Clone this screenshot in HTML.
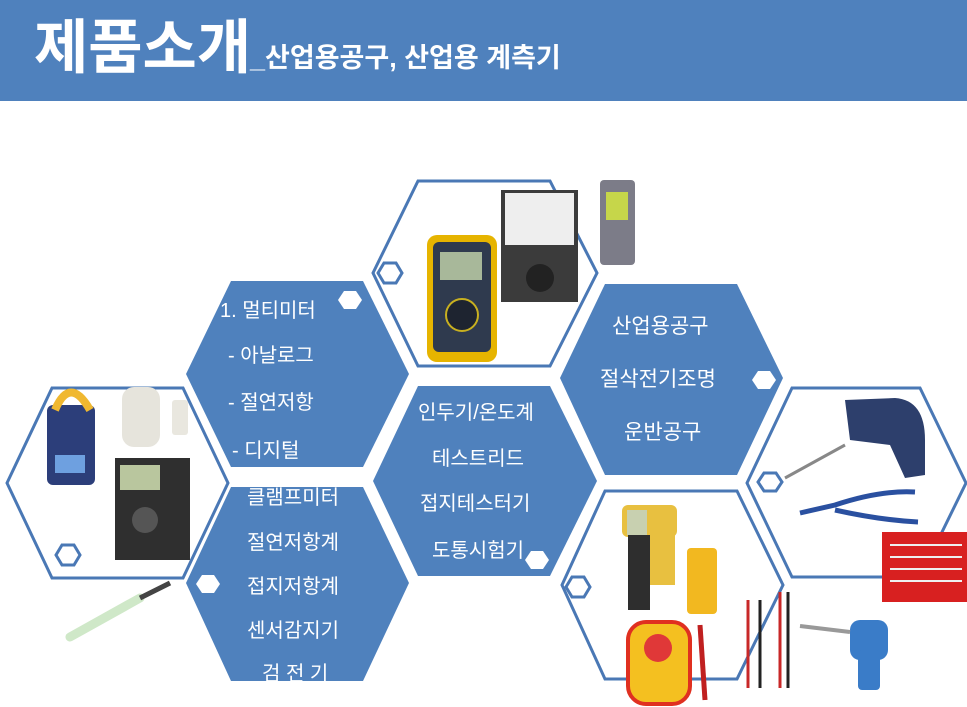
<!DOCTYPE html>
<html><head><meta charset="utf-8"><style>
html,body{margin:0;padding:0;background:#fff;width:967px;height:707px;overflow:hidden}
svg{display:block}
text{font-family:"Liberation Sans","Noto Sans CJK KR","NanumGothic",sans-serif}
</style></head><body>
<svg width="967" height="707" viewBox="0 0 967 707" xmlns="http://www.w3.org/2000/svg">
<defs>
<clipPath id="cA"><polygon points="231,281 363,281 409,374 363,467 231,467 186,374"/></clipPath>
<clipPath id="cB"><polygon points="231,487 363,487 409,583 363,681 231,681 186,583"/></clipPath>
<clipPath id="cC"><polygon points="418,386 550,386 597,481 550,576 418,576 373,481"/></clipPath>
<clipPath id="cD"><polygon points="605,284 737,284 783,378 737,475 605,475 560,378"/></clipPath>
</defs>
<rect x="0" y="0" width="967" height="101" fill="#4f81bd"/>
<text x="34" y="68" fill="#fff" font-size="59" font-weight="bold">제품소개</text>
<text x="250" y="67" fill="#fff" font-size="27" font-weight="bold">_산업용공구, 산업용 계측기</text>

<!-- outline hexes -->
<g fill="none" stroke="#4a78b5" stroke-width="3">
<polygon points="418,181 550,181 597,273 550,366 418,366 373,273"/>
<polygon points="52,388 183,388 228,483 183,578 52,578 7,483"/>
<polygon points="605,491 737,491 783,585 737,679 605,679 562,585"/>
<polygon points="792,388 920,388 966,483 920,577 792,577 747,483"/>
</g>

<!-- photos approximations -->
<rect x="427" y="235" width="70" height="127" rx="10" fill="#e6b400"/>
<rect x="433" y="242" width="58" height="110" rx="6" fill="#2f3a4e"/>
<rect x="440" y="252" width="42" height="28" fill="#a8b89a"/>
<circle cx="462" cy="315" r="16" fill="#1e2430" stroke="#c8b020" stroke-width="2"/>
<rect x="501" y="190" width="77" height="112" fill="#3b3b3b"/>
<rect x="505" y="193" width="69" height="52" fill="#eee"/>
<circle cx="540" cy="278" r="14" fill="#222"/>
<rect x="600" y="180" width="35" height="85" rx="4" fill="#7c7c88"/>
<rect x="606" y="192" width="22" height="28" fill="#c6d64a"/>

<rect x="47" y="405" width="48" height="80" rx="6" fill="#2c3e7a"/>
<path d="M55,410 Q70,375 90,410" fill="none" stroke="#f0b830" stroke-width="8"/>
<rect x="55" y="455" width="30" height="18" fill="#6ea0e0"/>
<rect x="122" y="387" width="38" height="60" rx="12" fill="#e6e4dc"/>
<rect x="172" y="400" width="16" height="35" rx="3" fill="#e9e7df"/>
<rect x="115" y="458" width="75" height="102" fill="#2f2f2f"/>
<rect x="120" y="465" width="40" height="25" fill="#b9c69e"/>
<circle cx="145" cy="520" r="13" fill="#555"/>
<line x1="70" y1="637" x2="140" y2="598" stroke="#cfe8c8" stroke-width="9" stroke-linecap="round"/>
<line x1="140" y1="598" x2="170" y2="583" stroke="#444" stroke-width="5"/>

<rect x="622" y="505" width="55" height="32" rx="6" fill="#e8c040"/>
<rect x="627" y="510" width="20" height="25" fill="#c8d0b0"/>
<rect x="628" y="535" width="22" height="75" fill="#2e2e2e"/>
<rect x="650" y="535" width="25" height="50" fill="#e8c040"/>
<rect x="687" y="548" width="30" height="66" rx="4" fill="#f2b820"/>
<rect x="628" y="622" width="62" height="82" rx="18" fill="#f4c020" stroke="#e03020" stroke-width="4"/>
<circle cx="658" cy="648" r="14" fill="#e03838"/>
<line x1="700" y1="625" x2="705" y2="700" stroke="#c02020" stroke-width="5"/>
<g stroke-width="3"><line x1="748" y1="600" x2="748" y2="688" stroke="#c82828"/><line x1="760" y1="600" x2="760" y2="688" stroke="#222"/><line x1="780" y1="592" x2="780" y2="688" stroke="#c82828"/><line x1="788" y1="592" x2="788" y2="688" stroke="#222"/></g>
<rect x="850" y="620" width="38" height="40" rx="10" fill="#3a7cc8"/>
<rect x="858" y="650" width="22" height="40" rx="4" fill="#3a7cc8"/>
<line x1="800" y1="626" x2="850" y2="632" stroke="#999" stroke-width="4"/>
<path d="M845,400 L895,398 Q925,400 925,440 L925,475 L905,478 L890,445 L850,440 Z" fill="#2d3f6c"/>
<line x1="785" y1="478" x2="845" y2="445" stroke="#888" stroke-width="3"/>
<path d="M800,513 L835,505 Q880,490 915,492 M835,510 Q880,520 918,522" fill="none" stroke="#2a50a0" stroke-width="5"/>
<rect x="882" y="532" width="85" height="70" fill="#d82020"/>
<g stroke="#eee" stroke-width="2"><line x1="890" y1="545" x2="962" y2="545"/><line x1="890" y1="557" x2="962" y2="557"/><line x1="890" y1="569" x2="962" y2="569"/><line x1="890" y1="581" x2="962" y2="581"/></g>

<!-- filled hexes -->
<g fill="#4f81bd">
<polygon points="231,281 363,281 409,374 363,467 231,467 186,374"/>
<polygon points="231,487 363,487 409,583 363,681 231,681 186,583"/>
<polygon points="418,386 550,386 597,481 550,576 418,576 373,481"/>
<polygon points="605,284 737,284 783,378 737,475 605,475 560,378"/>
</g>

<!-- small hexes -->
<g fill="#fff">
<polygon points="344,291 356,291 362,300 356,309 344,309 338,300"/>
<polygon points="202,575 214,575 220,584 214,593 202,593 196,584"/>
<polygon points="531,551 543,551 549,560 543,569 531,569 525,560"/>
<polygon points="758,371 770,371 776,380 770,389 758,389 752,380"/>
</g>
<g fill="none" stroke="#4a78b5" stroke-width="3">
<polygon points="384,263 396,263 402,273 396,283 384,283 378,273"/>
<polygon points="62,545 74,545 80,555 74,565 62,565 56,555"/>
<polygon points="572,577 584,577 590,587 584,597 572,597 566,587"/>
<polygon points="764,473 776,473 782,482 776,491 764,491 758,482"/>
</g>

<g fill="#fff" font-size="20">
<g clip-path="url(#cA)">
<text x="220" y="317">1.  멀티미터</text>
<text x="228" y="362">- 아날로그</text>
<text x="228" y="409">- 절연저항</text>
<text x="232" y="457">- 디지털</text>
</g>
<g clip-path="url(#cB)">
<text x="247" y="504">클램프미터</text>
<text x="247" y="549">절연저항계</text>
<text x="247" y="593">접지저항계</text>
<text x="247" y="637">센서감지기</text>
<text x="262" y="680">검 전 기</text>
</g>
<g clip-path="url(#cC)">
<text x="418" y="419">인두기/온도계</text>
<text x="432" y="465">테스트리드</text>
<text x="420" y="510">접지테스터기</text>
<text x="432" y="557">도통시험기</text>
</g>
<g clip-path="url(#cD)" font-size="21">
<text x="612" y="333">산업용공구</text>
<text x="600" y="386">절삭전기조명</text>
<text x="624" y="439">운반공구</text>
</g>
</g>
</svg>
</body></html>
